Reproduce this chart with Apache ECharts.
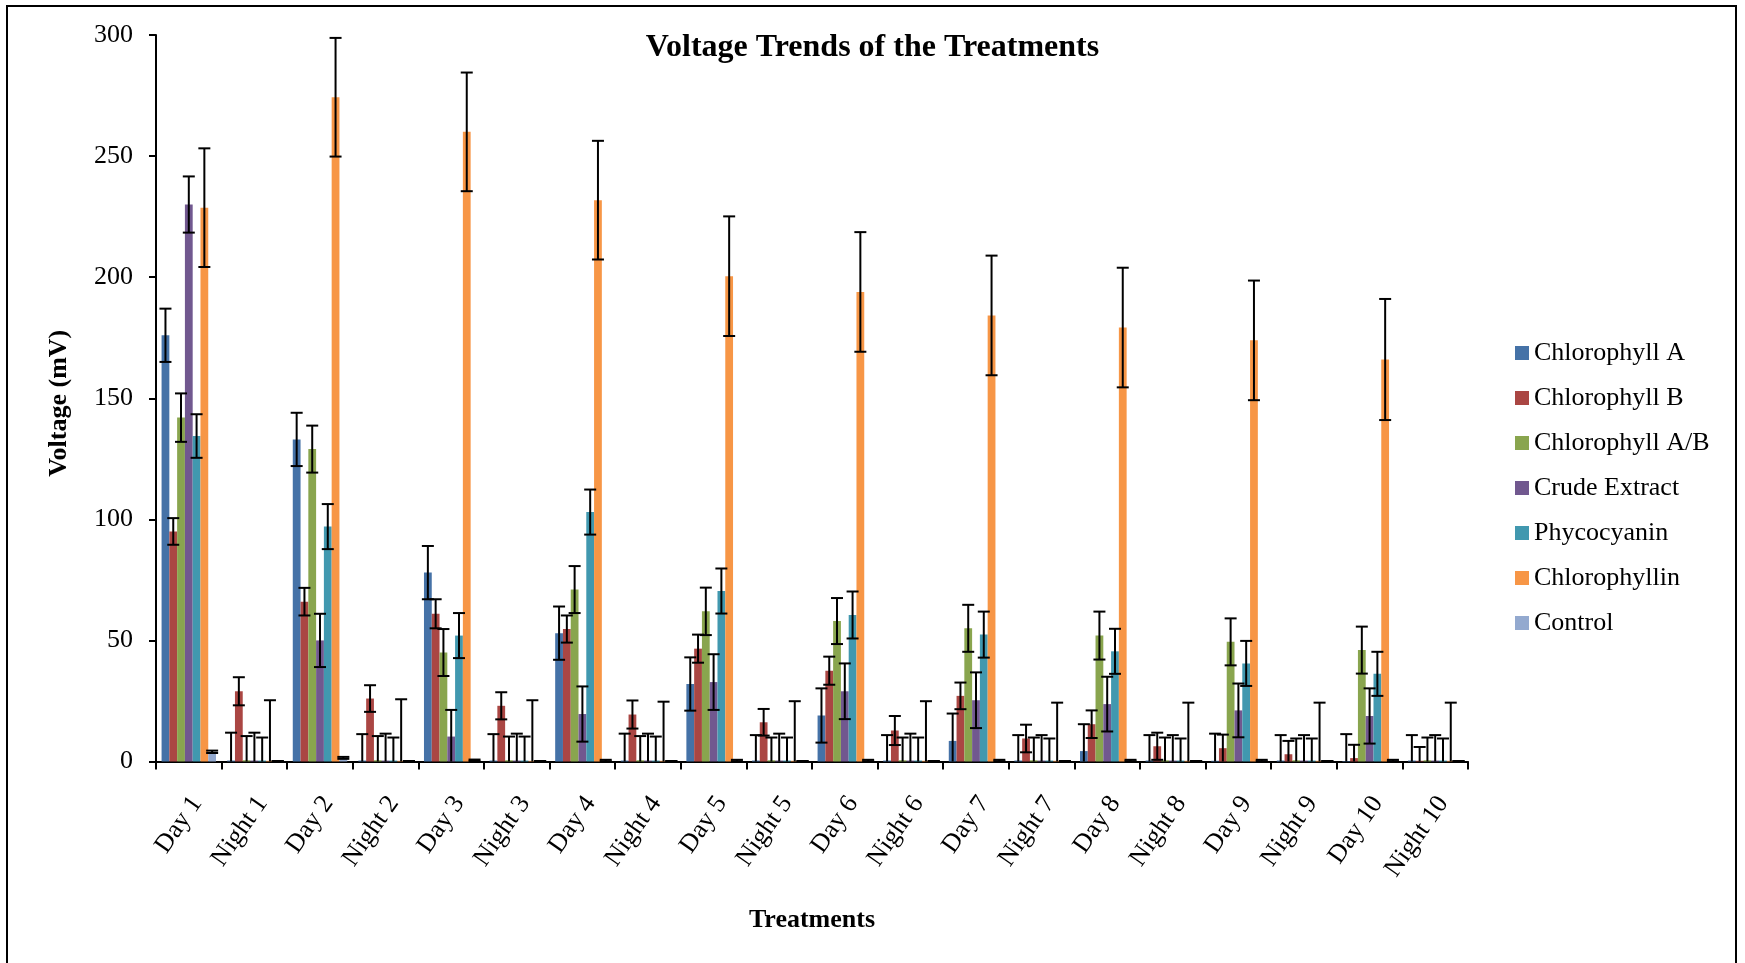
<!DOCTYPE html>
<html><head><meta charset="utf-8">
<script src="https://cdn.jsdelivr.net/npm/echarts/dist/echarts.min.js"></script>
<style>html,body{margin:0;padding:0;background:#fff}#c{width:1745px;height:963px}</style>
</head><body><div id="c"></div>
<script>
const categories = ['Day 1','Night 1','Day 2','Night 2','Day 3','Night 3','Day 4','Night 4','Day 5','Night 5',
  'Day 6','Night 6','Day 7','Night 7','Day 8','Night 8','Day 9','Night 9','Day 10','Night 10'];
const seriesNames = ['Chlorophyll A','Chlorophyll B','Chlorophyll A/B','Crude Extract','Phycocyanin','Chlorophyllin','Control'];
const yTicks = [0, 50, 100, 150, 200, 250, 300];

const chlA      = [176, 0.4, 133, 0.4, 78, 0.4, 53, 0.4, 32, 0.4, 19, 0.4, 8.5, 0.4, 4.3, 0.4, 0.3, 0.4, 0.2, 0.4];
const chlAErr   = [11, 11.5, 11, 10.9, 11, 10.9, 11, 11.1, 11, 10.5, 11.2, 10.5, 11.3, 10.5, 11.1, 10.5, 11.2, 10.5, 11.1, 10.5];
const chlB      = [95, 29, 66, 26, 61, 23, 54.7, 19.4, 46.6, 16.2, 37.5, 12.8, 27.1, 9.5, 15.4, 6.3, 5.5, 3, 1.4, 0.3];
const chlBErr   = [5.5, 5.8, 5.7, 5.5, 6, 5.6, 5.6, 5.8, 5.8, 5.5, 5.8, 6, 5.5, 5.7, 5.7, 5.6, 5.6, 5.5, 5.5, 5.7];
const chlAB     = [142, 0.5, 129, 0.5, 45, 0.5, 71, 0.5, 62, 0.5, 58, 0.5, 55, 0.5, 52, 0.5, 49.4, 0.5, 46, 0.5];
const chlABErr  = [10, 10, 9.7, 10, 9.7, 9.8, 9.7, 10, 9.8, 9.4, 9.5, 9.4, 9.7, 9.4, 9.9, 9.4, 9.7, 9, 9.7, 9.4];
const crude     = [230, 0.4, 50, 0.4, 10.3, 0.4, 19.6, 0.4, 32.8, 0.4, 29, 0.4, 25.3, 0.4, 23.7, 0.4, 21.1, 0.4, 18.8, 0.4];
const crudeErr  = [11.6, 11.5, 11, 11.1, 11, 11.1, 11.4, 11.1, 11.5, 11.1, 11.5, 11.1, 11.5, 10.5, 11.3, 10.5, 11.1, 10.5, 11.4, 10.5];
const phyco     = [134.4, 0.4, 97, 0.4, 52, 0.4, 103, 0.4, 70.4, 0.4, 60.5, 0.4, 52.4, 0.4, 45.5, 0.4, 40.5, 0.4, 36.2, 0.4];
const phycoErr  = [9, 9.5, 9.3, 9.5, 9.3, 9.9, 9.3, 9.9, 9.3, 9.5, 9.7, 9.5, 9.5, 9.1, 9.3, 9.1, 9.3, 9.1, 9.1, 9.1];
const chlin     = [228.7, 0.3, 274.3, 0.3, 260, 0.3, 231.8, 0.3, 200.4, 0.3, 193.9, 0.3, 184.2, 0.3, 179.2, 0.3, 173.9, 0.3, 166, 0.3];
const chlinErr  = [24.5, 25, 24.5, 25.4, 24.5, 25, 24.5, 24.4, 24.7, 24.6, 24.7, 24.6, 24.7, 24, 24.7, 24, 24.7, 24, 25, 24];
const control   = [4, 0.2, 1.5, 0.2, 0.5, 0.2, 0.4, 0.2, 0.4, 0.2, 0.4, 0.2, 0.4, 0.2, 0.4, 0.2, 0.4, 0.2, 0.4, 0.2];
const controlErr= [0.5, 0, 0.4, 0, 0.3, 0, 0.3, 0, 0.3, 0, 0.3, 0, 0.3, 0, 0.3, 0, 0.3, 0, 0.3, 0];

const colors = ['#4572A7','#AA4643','#89A54E','#71588F','#4198AF','#F79646','#93A9CF'];
const values = [chlA, chlB, chlAB, crude, phyco, chlin, control];
const errors = [chlAErr, chlBErr, chlABErr, crudeErr, phycoErr, chlinErr, controlErr];

const FONT = 'Liberation Serif';
const GAP = 0.17;

const errData = [];
values.forEach((arr, si) => arr.forEach((v, ci) => errData.push([ci, v, errors[si][ci], si])));

const barSeries = seriesNames.map((name, i) => ({
  name, type: 'bar', data: values[i], barGap: '0%', barCategoryGap: (GAP*100)+'%',
  itemStyle: { color: colors[i] }, z: 2
}));

const chart = echarts.init(document.getElementById('c'), null, {renderer: 'canvas'});
chart.setOption({
  animation: false,
  backgroundColor: '#fff',
  title: {
    text: 'Voltage Trends of the Treatments', left: 'center', top: 27,
    textStyle: { fontFamily: FONT, fontWeight: 'bold', fontSize: 32, color: '#000' }
  },
  legend: {
    data: seriesNames, orient: 'vertical', left: 1510, top: 335,
    icon: 'rect', itemWidth: 14, itemHeight: 14, itemGap: 19,
    textStyle: { fontFamily: FONT, fontSize: 26, color: '#000', lineHeight: 26 }
  },
  grid: { left: 156, right: 277, top: 35, bottom: 201.5, containLabel: false, outerBoundsMode: 'none' },
  xAxis: {
    type: 'category', data: categories,
    name: 'Treatments', nameLocation: 'middle', nameGap: 146, nameMoveOverlap: false,
    nameTextStyle: { fontFamily: FONT, fontWeight: 'bold', fontSize: 26, color: '#000' },
    axisLine: { lineStyle: { color: '#000', width: 2 } },
    axisTick: { show: true, length: 8, lineStyle: { color: '#000', width: 2 } },
    axisLabel: { interval: 0, rotate: 55, margin: 49, padding: [0, -14, 0, 0],
      fontFamily: FONT, fontSize: 26, color: '#000' },
    splitLine: { show: false }
  },
  yAxis: {
    type: 'value', min: yTicks[0], max: yTicks[yTicks.length-1], interval: yTicks[1]-yTicks[0],
    name: 'Voltage (mV)', nameLocation: 'middle', nameGap: 84, nameRotate: 90, nameMoveOverlap: false,
    nameTextStyle: { fontFamily: FONT, fontWeight: 'bold', fontSize: 26, color: '#000', padding: [0, 10, 0, 0] },
    axisLine: { show: true, lineStyle: { color: '#000', width: 2 } },
    axisTick: { show: true, length: 7, lineStyle: { color: '#000', width: 2 } },
    axisLabel: { margin: 23, fontFamily: FONT, fontSize: 26, color: '#000' },
    splitLine: { show: false }
  },
  graphic: [{
    type: 'rect', shape: { x: 7, y: 6, width: 1729, height: 975 },
    style: { fill: 'none', stroke: '#000', lineWidth: 2 }, silent: true, z: 100
  }],
  series: barSeries.concat([{
    name: 'errors', type: 'custom', data: errData, z: 10, clip: false,
    encode: { x: 0, y: 1 },
    renderItem: function (params, api) {
      const ci = api.value(0), v = api.value(1), e = api.value(2), si = api.value(3);
      const band = api.size([1, 0])[0];
      const barW = band * (1 - GAP) / 7;
      const cx = api.coord([ci, 0])[0] + (si - 3) * barW;
      const yTop = api.coord([ci, v + e])[1];
      const low = v - e;
      const yBot = api.coord([ci, Math.max(0, low)])[1];
      const half = 6;
      const st = { stroke: '#000', lineWidth: 2 };
      const ch = [
        { type: 'line', shape: { x1: cx, y1: yTop, x2: cx, y2: yBot }, style: st },
        { type: 'line', shape: { x1: cx - half, y1: yTop, x2: cx + half, y2: yTop }, style: st }
      ];
      if (low >= 0) ch.push({ type: 'line', shape: { x1: cx - half, y1: yBot, x2: cx + half, y2: yBot }, style: st });
      return { type: 'group', children: ch };
    }
  }])
});
</script></body></html>
